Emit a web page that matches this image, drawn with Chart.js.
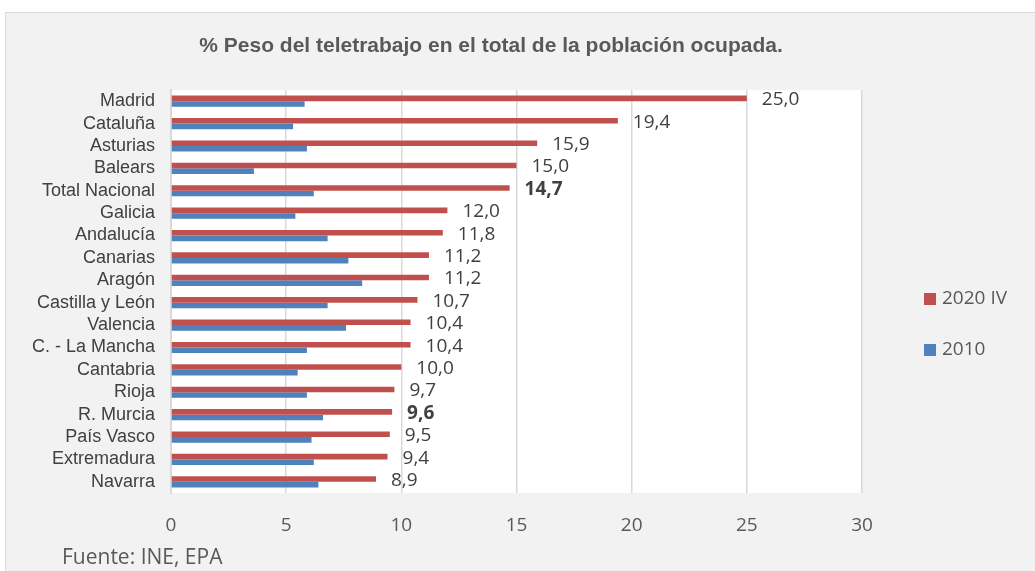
<!DOCTYPE html>
<html lang="es">
<head>
<meta charset="utf-8">
<title>Peso del teletrabajo</title>
<script src="https://cdn.jsdelivr.net/npm/chart.js@4.4.1/dist/chart.umd.min.js"></script>
<style>
  html, body { margin: 0; padding: 0; background: #ffffff; }
  #panel {
    position: absolute; left: 5px; top: 12px; width: 1040px; height: 570px;
    background: #f2f2f2; border: 1px solid #d9d9d9; box-sizing: border-box;
  }
  #chart { position: absolute; left: 0; top: 0; }
</style>
</head>
<body>
<div id="panel"></div>
<canvas id="chart" width="1035" height="571"></canvas>
<script>
const categories = ['Madrid', 'Cataluña', 'Asturias', 'Balears', 'Total Nacional', 'Galicia', 'Andalucía',
    'Canarias', 'Aragón', 'Castilla y León', 'Valencia', 'C. - La Mancha', 'Cantabria', 'Rioja',
    'R. Murcia', 'País Vasco', 'Extremadura', 'Navarra'];
const values2020 = [25.0, 19.4, 15.9, 15.0, 14.7, 12.0, 11.8, 11.2, 11.2, 10.7, 10.4, 10.4, 10.0, 9.7, 9.6, 9.5, 9.4, 8.9];
const values2010 = [5.8, 5.3, 5.9, 3.6, 6.2, 5.4, 6.8, 7.7, 8.3, 6.8, 7.6, 5.9, 5.5, 5.9, 6.6, 6.1, 6.2, 6.4];
const seriesNames = ['2020 IV', '2010'];
const boldLabels = ['Total Nacional', 'R. Murcia'];
const xTicks = [0, 5, 10, 15, 20, 25, 30];

const titleText = '% Peso del teletrabajo en el total de la población ocupada.';
const sourceText = 'Fuente: INE, EPA';

const RED = '#c0504d';
const BLUE = '#4f81bd';

// plot background, labels, title, legend and source
const decor = {
    id: 'decor',
    beforeDraw(chart) {
        const { ctx, chartArea: a } = chart;
        ctx.save();
        ctx.fillStyle = '#ffffff';
        ctx.fillRect(a.left, a.top, a.right - a.left, a.bottom - a.top);
        ctx.restore();
    },
    afterDatasetsDraw(chart) {
        const ctx = chart.ctx;
        const meta = chart.getDatasetMeta(0);
        ctx.save();
        ctx.fillStyle = '#404040';
        ctx.textBaseline = 'middle';
        ctx.textAlign = 'left';
        meta.data.forEach((bar, i) => {
            const bold = boldLabels.includes(categories[i]);
            ctx.font = (bold ? 'bold ' : '') + '19px "Open Sans"';
            ctx.fillText(values2020[i].toFixed(1).replace('.', ','), bar.x + 15, bar.y + 1.5);
        });
        ctx.restore();
    },
    afterDraw(chart) {
        const ctx = chart.ctx;
        ctx.save();
        ctx.fillStyle = '#595959';
        ctx.textAlign = 'center';
        ctx.textBaseline = 'alphabetic';
        ctx.font = 'bold 21px "Liberation Sans"';
        ctx.fillText(titleText, 491, 52);

        ctx.textBaseline = 'middle';
        ctx.textAlign = 'left';
        ctx.font = '21px "Open Sans"';
        ctx.fillText(sourceText, 62, 558);

        const colors = [RED, BLUE];
        const rows = [299, 350];
        ctx.font = '19px "Open Sans"';
        seriesNames.forEach((name, i) => {
            ctx.fillStyle = colors[i];
            ctx.fillRect(924, rows[i] - 6, 12, 12);
            ctx.fillStyle = '#595959';
            ctx.fillText(name, 942, rows[i]);
        });
        ctx.restore();
    }
};

new Chart(document.getElementById('chart'), {
    type: 'bar',
    data: {
        labels: categories,
        datasets: [
            { label: seriesNames[0], data: values2020, backgroundColor: RED },
            { label: seriesNames[1], data: values2010, backgroundColor: BLUE },
        ],
    },
    options: {
        indexAxis: 'y',
        responsive: false,
        animation: false,
        categoryPercentage: 0.5,
        barPercentage: 1.0,
        layout: { padding: { left: 0, right: 173, top: 90, bottom: 0 } },
        plugins: {
            legend: { display: false },
            tooltip: { enabled: false },
        },
        scales: {
            x: {
                min: 0,
                max: 30,
                afterBuildTicks: (scale) => {
                    scale.ticks = xTicks.map((v) => ({ value: v }));
                },
                afterFit: (scale) => { scale.height = 78; },
                grid: { color: '#d9d9d9', lineWidth: 1.5, drawTicks: false },
                border: { display: false },
                ticks: { padding: 21, color: '#595959', font: { family: 'Open Sans', size: 19 } },
            },
            y: {
                afterFit: (scale) => { scale.width = 171; },
                grid: { display: false, drawTicks: false },
                border: { display: true, color: '#d9d9d9', width: 2 },
                ticks: {
                    autoSkip: false,
                    padding: 16,
                    color: '#404040',
                    font: { family: 'Liberation Sans', size: 18 },
                },
            },
        },
    },
    plugins: [decor],
});
</script>
</body>
</html>
